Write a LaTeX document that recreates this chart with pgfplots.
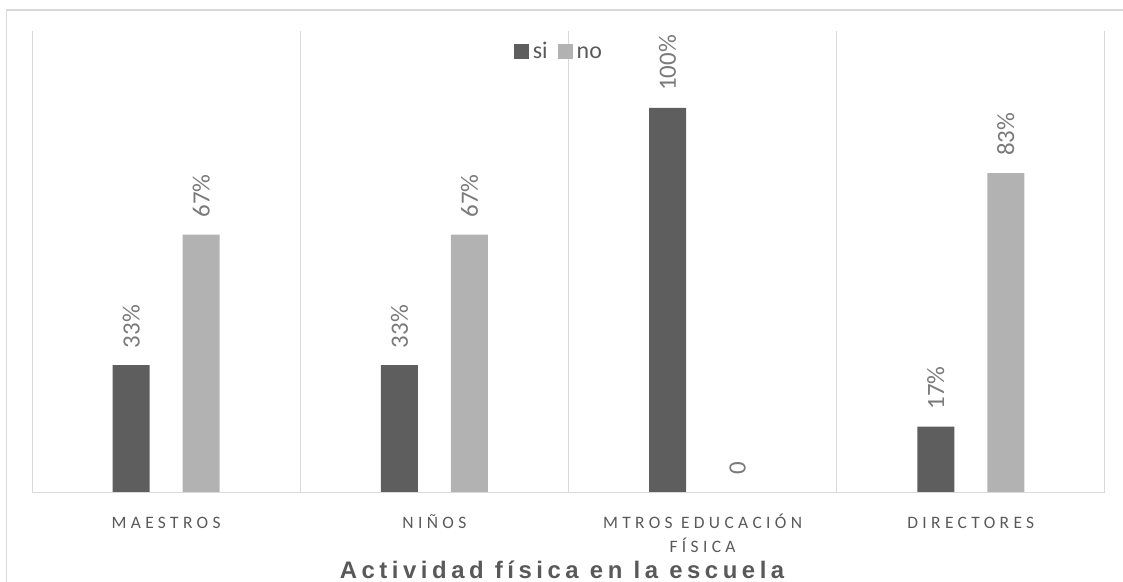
\documentclass[border=0pt]{standalone}
\usepackage{fontspec}
\setmainfont{Carlito}
\newfontfamily\tickfont[LetterSpace=25]{Carlito}
\newfontfamily\titlefont[LetterSpace=19]{Liberation Sans}
\usepackage{pgfplots}
\pgfplotsset{compat=1.18}
\definecolor{sicol}{HTML}{5E5E5E}
\definecolor{nocol}{HTML}{B2B2B2}
\definecolor{gridc}{HTML}{D9D9D9}
\definecolor{txt}{HTML}{595959}
\definecolor{lbl}{HTML}{7A7A7A}
\newcommand{\st}{\rule{0pt}{15bp}}
\begin{document}
\begin{tikzpicture}
\useasboundingbox (0,0) rectangle (1123bp,582bp);
\draw[gridc, line width=1.5bp] (6.5bp,0) -- (6.5bp,572bp) -- (1123bp,572bp);
\begin{axis}[
  at={(32bp,90bp)}, anchor=south west, scale only axis,
  width=1073bp, height=461bp,
  xmin=-0.5, xmax=3.5, ymin=0, ymax=120,
  axis x line=bottom, axis y line=none,
  axis line style={-, draw=gridc, line width=1bp},
  xtick={0,1,2,3},
  xticklabels={\st MAESTROS, \st NIÑOS, {\st MTROS EDUCACIÓN\\FÍSICA}, \st DIRECTORES},
  major tick length=0pt,
  extra x ticks={-0.5,0.5,1.5,2.5,3.5}, extra x tick labels={},
  extra x tick style={grid=major, major grid style={draw=gridc, line width=1bp}},
  xticklabel style={font=\fontsize{17.5}{24}\selectfont\tickfont, text=txt, align=center, anchor=north, inner sep=0pt, yshift=-21bp},
  xlabel={\titlefont\bfseries Actividad física en la escuela},
  xlabel style={font=\fontsize{24}{28}\selectfont, text=txt, at={(axis description cs:0.494,0)}, anchor=base, inner sep=0pt, yshift=-86bp},
  ybar, bar width=37bp,
  nodes near coords, point meta=explicit symbolic,
  nodes near coords style={rotate=90, anchor=west, font=\fontsize{25}{28}\selectfont, text=lbl, inner xsep=17bp, inner ysep=0pt},
  legend style={at={(0.492,0.954)}, anchor=center, draw=none, fill=none, legend columns=2, font=\fontsize{24}{28}\selectfont, text=txt,
    nodes={text height=11bp, text depth=0bp, inner xsep=4bp},
    /tikz/every even column/.append style={column sep=6bp}},
  legend image code/.code={\fill[#1] (0bp,-5.5bp) rectangle (15bp,9.5bp);},
]
\addplot[fill=sicol, draw=none, bar shift=-35bp] coordinates {(0,33) [33\%] (1,33) [33\%] (2,100) [100\%] (3,17) [17\%]};
\addplot[fill=nocol, draw=none, bar shift=35bp] coordinates {(0,67) [67\%] (1,67) [67\%] (2,0) [0] (3,83) [83\%]};
\legend{si, no}
\end{axis}
\end{tikzpicture}
\end{document}
